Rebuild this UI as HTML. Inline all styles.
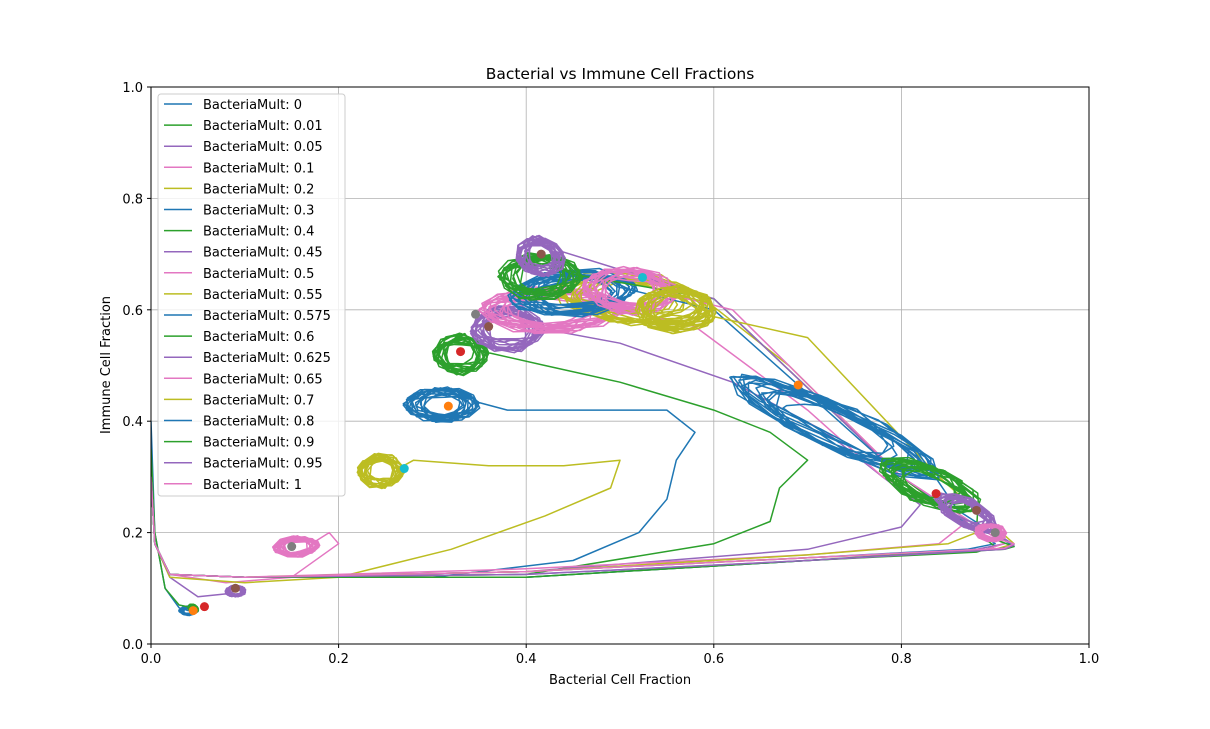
<!DOCTYPE html>
<html><head><meta charset="utf-8"><style>
body{margin:0;background:#fff;font-family:"Liberation Sans","DejaVu Sans",sans-serif}
svg text{font-family:"DejaVu Sans","Liberation Sans",sans-serif;font-size:13px;fill:#000}
</style></head><body>
<svg id="c" width="1210" height="724"></svg>
<script>
const mults=["0","0.01","0.05","0.1","0.2","0.3","0.4","0.45","0.5","0.55","0.575","0.6","0.625","0.65","0.7","0.8","0.9","0.95","1"];
const palette=["#1f77b4","#2ca02c","#9467bd","#e377c2","#bcbd22"];
const pathX=[
[0,0.004,0.015,0.03,0.04],
[0,0.004,0.015,0.03,0.045],
[0,0.004,0.02,0.05,0.08],
[0,0.004,0.02,0.08,0.15,0.2,0.19],
[0,0.004,0.02,0.1,0.2,0.32,0.42,0.49,0.5,0.44,0.36,0.28],
[0,0.004,0.02,0.1,0.3,0.45,0.52,0.55,0.56,0.58,0.55,0.48,0.38],
[0,0.004,0.02,0.1,0.4,0.6,0.66,0.67,0.7,0.66,0.6,0.5,0.42],
[0,0.004,0.02,0.1,0.4,0.7,0.8,0.82,0.78,0.72,0.62,0.5],
[0,0.004,0.02,0.1,0.4,0.7,0.84,0.87,0.78,0.7,0.58],
[0,0.004,0.02,0.1,0.4,0.7,0.85,0.88,0.8,0.68],
[0,0.004,0.02,0.1,0.4,0.7,0.87,0.9,0.8,0.6],
[0,0.004,0.02,0.1,0.4,0.7,0.88,0.9,0.8,0.6],
[0,0.004,0.02,0.1,0.4,0.7,0.88,0.91,0.8,0.6],
[0,0.004,0.02,0.1,0.4,0.7,0.89,0.91,0.8,0.62],
[0,0.004,0.02,0.1,0.4,0.7,0.9,0.92,0.84,0.7],
[0,0.004,0.02,0.1,0.4,0.7,0.9,0.92,0.86],
[0,0.004,0.02,0.1,0.4,0.7,0.91,0.92,0.88],
[0,0.004,0.02,0.1,0.4,0.7,0.91,0.92,0.9],
[0,0.004,0.02,0.1,0.4,0.7,0.91,0.92,0.9]];
const pathY=[
[0.4,0.2,0.1,0.065,0.06],
[0.35,0.2,0.1,0.07,0.065],
[0.3,0.18,0.12,0.085,0.09],
[0.3,0.18,0.125,0.11,0.12,0.18,0.2],
[0.3,0.18,0.12,0.11,0.12,0.17,0.23,0.28,0.33,0.32,0.32,0.33],
[0.3,0.18,0.125,0.12,0.12,0.15,0.2,0.26,0.33,0.38,0.42,0.42,0.42],
[0.3,0.18,0.125,0.12,0.125,0.18,0.22,0.28,0.33,0.38,0.42,0.47,0.5],
[0.3,0.18,0.125,0.12,0.13,0.17,0.21,0.25,0.3,0.38,0.47,0.54],
[0.3,0.18,0.125,0.12,0.135,0.16,0.18,0.22,0.3,0.42,0.57],
[0.3,0.18,0.125,0.12,0.13,0.16,0.18,0.2,0.3,0.5],
[0.3,0.18,0.125,0.12,0.13,0.155,0.17,0.18,0.3,0.6],
[0.3,0.18,0.125,0.12,0.12,0.15,0.165,0.175,0.3,0.62],
[0.3,0.18,0.125,0.12,0.125,0.15,0.17,0.18,0.3,0.62],
[0.3,0.18,0.125,0.12,0.13,0.155,0.17,0.18,0.3,0.6],
[0.3,0.18,0.125,0.12,0.13,0.155,0.17,0.18,0.3,0.55],
[0.3,0.18,0.125,0.12,0.12,0.15,0.17,0.175,0.24],
[0.3,0.18,0.125,0.12,0.12,0.15,0.17,0.175,0.2],
[0.3,0.18,0.125,0.12,0.125,0.15,0.17,0.178,0.2],
[0.3,0.18,0.125,0.12,0.13,0.155,0.172,0.18,0.19]];
const clX1=[0.035,0.04,0.08,0.13,0.22,0.27,0.3,0.34,0.35,0.43,0.38,0.37,0.39,0.46,0.52,0.62,0.78,0.84,0.88];
const clY1=[0.06,0.062,0.09,0.17,0.31,0.43,0.52,0.56,0.6,0.64,0.62,0.66,0.69,0.65,0.62,0.48,0.33,0.27,0.21];
const clX2=[0.045,0.05,0.1,0.18,0.27,0.35,0.36,0.42,0.5,0.6,0.52,0.46,0.44,0.56,0.6,0.84,0.88,0.9,0.91];
const clY2=[0.06,0.065,0.1,0.18,0.31,0.43,0.52,0.57,0.6,0.6,0.64,0.66,0.7,0.62,0.58,0.3,0.24,0.2,0.19];
const clW=[0.008,0.008,0.01,0.018,0.03,0.03,0.035,0.04,0.04,0.045,0.04,0.04,0.035,0.04,0.04,0.035,0.03,0.02,0.015];
const mkX=[0.045,0.057,0.09,0.15,0.27,0.317,0.33,0.36,0.346,0.524,0.416,0.69,0.837,0.88,0.9];
const mkY=[0.06,0.067,0.1,0.175,0.315,0.427,0.525,0.57,0.592,0.658,0.70,0.465,0.27,0.24,0.2];
const mkC=["#ff7f0e","#d62728","#8c564b","#7f7f7f","#17becf","#ff7f0e","#d62728","#8c564b","#7f7f7f","#17becf","#8c564b","#ff7f0e","#d62728","#8c564b","#7f7f7f"];
const xTicks=[0,0.2,0.4,0.6,0.8,1.0], yTicks=[0,0.2,0.4,0.6,0.8,1.0];

const L=151,R=1089,T=87,B=644;
const sx=v=>L+v*(R-L), sy=v=>B-v*(B-T);
const svg=document.getElementById('c');const NS="http://www.w3.org/2000/svg";
function mk(t,a,p){const e=document.createElementNS(NS,t);for(const k in a)e.setAttribute(k,a[k]);(p||svg).appendChild(e);return e;}
function tx(x,y,s,anchor,extra){const e=mk('text',Object.assign({x:x,y:y,'text-anchor':anchor||'middle'},extra||{}));e.textContent=s;return e;}

xTicks.forEach(v=>{const g=mk('line',{x1:sx(v),x2:sx(v),y1:T,y2:B,stroke:'#b0b0b0','stroke-width':0.8});
});
yTicks.forEach(v=>{const g=mk('line',{x1:L,x2:R,y1:sy(v),y2:sy(v),stroke:'#b0b0b0','stroke-width':0.8});
});

const clip=mk('clipPath',{id:'pc'});mk('rect',{x:L,y:T,width:R-L,height:B-T},clip);
const plot=mk('g',{'clip-path':'url(#pc)'});


mults.forEach((m,i)=>{
  let pts=pathX[i].map((x,j)=>[sx(x),sy(pathY[i][j])]);
  const x1=clX1[i],y1=clY1[i],x2=clX2[i],y2=clY2[i],w=clW[i];
  let dx=x2-x1,dy=y2-y1,len=Math.hypot(dx,dy);
  let ux=1,uy=0,h=w*1.3;
  if(len>0.01){ux=dx/len;uy=dy/len;h=len/2;}
  const nx=-uy,ny=ux,cx=(x1+x2)/2,cy=(y1+y2)/2;
  const N=160;
  for(let k=0;k<=N;k++){
    const a=k*0.62;
    const r1=0.45+0.55*Math.abs(Math.sin(k*0.071+i*0.9));
    const r2=0.5+0.5*Math.abs(Math.cos(k*0.113+i));
    const j1=0.12*Math.sin(k*2.1), j2=0.12*Math.cos(k*1.7);
    const al=h*r1*Math.cos(a)+h*j1*0.3, pe=w*r2*Math.sin(a)+w*j2;
    pts.push([sx(cx+ux*al+nx*pe),sy(cy+uy*al+ny*pe)]);
  }
  const p=mk('polyline',{points:pts.map(q=>q[0].toFixed(1)+','+q[1].toFixed(1)).join(' '),fill:'none',stroke:palette[i%5],'stroke-width':1.5,'stroke-linejoin':'round'},plot);
  
  
});
mkX.forEach((x,i)=>{const c=mk('circle',{cx:sx(x),cy:sy(mkY[i]),r:4.5,fill:mkC[i]},plot);
});

const fr=mk('rect',{x:L,y:T,width:R-L,height:B-T,fill:'none',stroke:'#000','stroke-width':1});

xTicks.forEach(v=>{mk('line',{x1:sx(v),x2:sx(v),y1:B,y2:B+4,stroke:'#000'});const t=tx(sx(v),B+19,v.toFixed(1));
});
yTicks.forEach(v=>{mk('line',{x1:L-4,x2:L,y1:sy(v),y2:sy(v),stroke:'#000'});const t=tx(L-8,sy(v)+5,v.toFixed(1),'end');
});
let t=tx(620,684,'Bacterial Cell Fraction');
t=tx(110,365,'Immune Cell Fraction','middle',{transform:'rotate(-90 110 365)'});
t=tx(620,79,'Bacterial vs Immune Cell Fractions','middle',{style:'font-size:15.5px'});

const lg=mk('g',{});
mk('rect',{x:158,y:94,width:187,height:402,rx:3,fill:'#fff','fill-opacity':0.8,stroke:'#ccc'},lg);
mults.forEach((m,i)=>{const y=104+i*21.1;
  const ln=mk('line',{x1:164,x2:192,y1:y,y2:y,stroke:palette[i%5],'stroke-width':1.5},lg);
  
  const e=mk('text',{x:203,y:y+5},lg);e.textContent='BacteriaMult: '+m;
  
});
</script>
</body></html>
